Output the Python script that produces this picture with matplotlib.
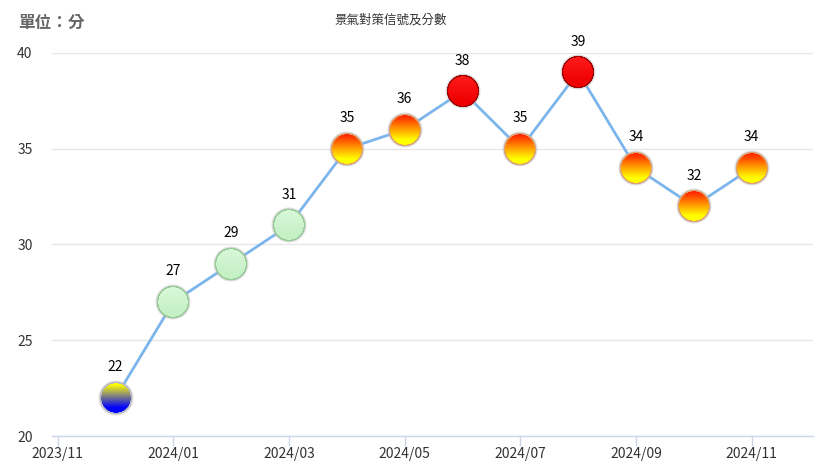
import numpy as np
import matplotlib
matplotlib.use("Agg")
import matplotlib.pyplot as plt
from matplotlib.colors import to_rgb
from matplotlib.offsetbox import OffsetImage, AnnotationBbox

plt.rcParams['font.family'] = ['Noto Sans CJK TC', 'DejaVu Sans']

# data: month index (0 = 2023/11)
months = [1, 2, 3, 4, 5, 6, 7, 8, 9, 10, 11, 12]
scores = [22, 27, 29, 31, 35, 36, 38, 35, 39, 34, 32, 34]
signals = ['yb', 'g', 'g', 'g', 'yr', 'yr', 'r', 'yr', 'r', 'yr', 'yr', 'yr']
tick_pos = [0, 2, 4, 6, 8, 10, 12]
tick_labels = ['2023/11', '2024/01', '2024/03', '2024/05', '2024/07', '2024/09', '2024/11']
y_ticks = [20, 25, 30, 35, 40]

# signal marker styles: top colour, bottom colour, rim colour
styles = {
    'yb': ('#ffff00', '#0000ff', '#b8b8c8'),
    'g': ('#d8f8d8', '#c6f0c6', '#95cc95'),
    'yr': ('#ff2800', '#ffff00', '#e0a070'),
    'r': ('#ff1a1a', '#ee0000', '#a00000'),
}


def make_marker(top, bottom, rim, size=36, scale=4):
    n = size * scale
    yy, xx = np.mgrid[0:n, 0:n]
    c = (n - 1) / 2
    r = np.hypot(xx - c, yy - c) / (n / 2)
    t = np.clip((yy / (n - 1) - 0.12) / 0.65, 0, 1)[..., None]
    fill = (1 - t) * np.array(to_rgb(top)) + t * np.array(to_rgb(bottom))
    img = np.zeros((n, n, 4))
    img[..., :3] = fill
    ring = (r > 0.82) & (r <= 0.90)
    img[ring, :3] = np.array(to_rgb(rim))
    halo = r > 0.90
    img[halo, :3] = np.array([0.72, 0.72, 0.72])
    alpha = np.ones((n, n))
    alpha[halo] = np.clip((1.0 - r[halo]) / 0.10, 0, 1) * 0.7
    alpha[r > 1.0] = 0
    img[..., 3] = alpha
    return img


fig = plt.figure(figsize=(8.25, 4.73), dpi=100)
ax = fig.add_axes([52 / 825, 1 - 436 / 473, (813 - 52) / 825, (436 - 53) / 473])

ax.plot(months, scores, color='#7cb5ec', linewidth=2, zorder=2)

for m, v, s in zip(months, scores, signals):
    img = make_marker(*styles[s])
    ab = AnnotationBbox(OffsetImage(img, zoom=0.25, dpi_cor=False), (m, v),
                        frameon=False, pad=0, zorder=3, annotation_clip=False)
    ax.add_artist(ab)
    ax.annotate(str(v), (m, v), xytext=(0, 22), textcoords='offset points',
                ha='center', va='center', fontsize=10, color='#000000',
                zorder=4, annotation_clip=False)

ax.set_xlim(-0.1, 13.06)
ax.set_ylim(20, 40)
ax.set_yticks(y_ticks)
ax.set_xticks(tick_pos)
ax.set_xticklabels(tick_labels)
ax.grid(axis='y', color='#e6e6e6', linewidth=1)
ax.set_axisbelow(True)

for side in ['top', 'right', 'left']:
    ax.spines[side].set_visible(False)
ax.spines['bottom'].set_color('#ccd6eb')
ax.spines['bottom'].set_linewidth(1)

ax.tick_params(axis='y', length=0, pad=14, labelsize=10, labelcolor='#333333')
ax.tick_params(axis='x', length=7.5, width=1, color='#ccd6eb', pad=0.5,
               labelsize=10, labelcolor='#333333')

fig.text(391 / 825, 1 - 20 / 473, '景氣對策信號及分數', ha='center', va='center',
         fontsize=9, color='#333333')
fig.text(18 / 825, 1 - 23 / 473, '單位：分', ha='left', va='center',
         fontsize=12, color='#666666', fontweight='bold')

fig.savefig('out.png', dpi=100)
